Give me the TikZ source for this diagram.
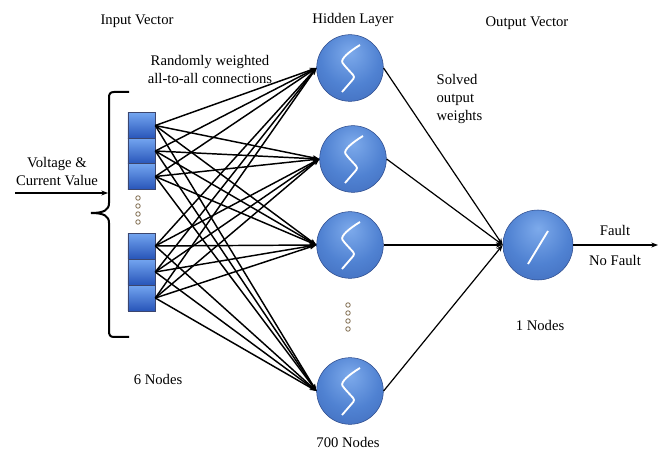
\documentclass[tikz,border=0pt]{standalone}
\usepackage{fontspec}
\setmainfont{Liberation Serif}
\usetikzlibrary{arrows.meta,positioning}

\definecolor{cellhi}{RGB}{115,165,240}
\definecolor{celllo}{RGB}{40,85,185}
\definecolor{cellrim}{RGB}{60,70,110}
\definecolor{ballhi}{RGB}{125,170,235}
\definecolor{ballblue}{RGB}{80,130,210}
\definecolor{balldark}{RGB}{55,95,175}
\definecolor{ballrim}{RGB}{45,75,140}
\definecolor{dotrim}{RGB}{125,105,75}

\pgfdeclareradialshading{neuronball}{\pgfpoint{0bp}{12bp}}{%
  color(0bp)=(ballhi); color(22bp)=(ballblue); color(50bp)=(balldark);
  color(62bp)=(ballrim); color(80bp)=(ballrim)}

\begin{document}
\begin{tikzpicture}[x=0.75pt, y=-0.75pt,
  every node/.style={font=\fontsize{11}{13.5}\selectfont},
  txt/.style={align=center, inner sep=1pt},
  cell/.style={draw=cellrim, top color=cellhi, bottom color=celllo,
    minimum width=20.3pt, minimum height=19.3pt, inner sep=0pt},
  neuron/.style={circle, draw=ballrim, shading=neuronball,
    minimum size=50pt, inner sep=0pt},
  arrow/.style={-{Stealth[length=5pt]}, line width=1.1pt},
  sig/.style={white, line width=1.4pt, rounded corners=2pt},
  dot/.style={draw=dotrim, fill=white, line width=0.6pt}
]
  \useasboundingbox (0,0) rectangle (665,449);

  % Titles
  \node[txt] (invec) at (137,21) {Input Vector};
  \node[txt] (hidlab) at (353,20) {Hidden Layer};
  \node[txt] (outvec) at (527,23) {Output Vector};
  \node[txt] (rand) at (210,69) {Randomly weighted\\all-to-all connections};
  \node[txt] (volt) at (57,172) {Voltage \&\\Current Value};
  \node[txt, align=left, anchor=west] (solved) at (435,99) {Solved\\output\\weights};

  % Input cells
  \node[cell] (in1) at (141.5,125.5) {};
  \node[cell] (in2) at (141.5,151) {};
  \node[cell] (in3) at (141.5,176.5) {};
  \node[cell] (in4) at (141.5,246) {};
  \node[cell] (in5) at (141.5,272) {};
  \node[cell] (in6) at (141.5,298) {};

  % Hidden and output neurons
  \node[neuron] (h1) at (350,68) {};
  \node[neuron] (h2) at (353,159) {};
  \node[neuron] (h3) at (350,245) {};
  \node[neuron] (h4) at (350,391) {};
  \node[neuron, minimum size=52.5pt] (out) at (538,245) {};

  % Counts
  \node[txt] (nin) at (158,379) {6 Nodes};
  \node[txt] (nhid) at (348,442) {700 Nodes};
  \node[txt] (nout) at (540,325) {1 Nodes};
  \node[txt] (fault) at (615,230) {Fault};
  \node[txt] (nofault) at (615,260) {No Fault};

  % Activation marks
  \foreach \n in {h1,h2,h3,h4}
    \draw[sig] ([shift={(10,-23)}]\n.center)
      .. controls ([shift={(0,-17)}]\n.center) and ([shift={(-10,-9)}]\n.center)
      .. ([shift={(-6,-3)}]\n.center) -- ([shift={(5,9)}]\n.center)
      -- ([shift={(-8,24)}]\n.center);
  \draw[sig] ([shift={(10,-14)}]out.center) -- ([shift={(-10,19)}]out.center);

  % Ellipsis dots
  \foreach \y in {198,206,214,222}
    \draw[dot] (138,\y) circle (1.7pt);
  \foreach \y in {305,313,321,329}
    \draw[dot] (348,\y) circle (1.7pt);

  % Bracket
  \draw[line width=1.5pt] (129,92) -- (114,92) .. controls (110,92) and (109,94) .. (109,98)
    -- (109,203) .. controls (109,210) and (104,213) .. (91,213)
    .. controls (104,213) and (109,216) .. (109,223)
    -- (109,331) .. controls (109,335) and (110,337) .. (114,337) -- (129,337);

  % Arrows
  \coordinate (vin) at (15,193);
  \coordinate (bin) at (108,193);
  \draw[arrow, line width=0.9pt] (vin) -- (bin);
  \foreach \i in {1,...,6}
    \foreach \j in {1,...,4}
      \draw[arrow] (in\i.east) -- (h\j.west);
  \foreach \j in {1,...,4}
    \draw[arrow, line width=0.9pt] (h\j.east) -- (out.west);
  \coordinate (fout) at (658,245);
  \draw[arrow, line width=0.9pt] (out.east) -- (fout);
\end{tikzpicture}
\end{document}
